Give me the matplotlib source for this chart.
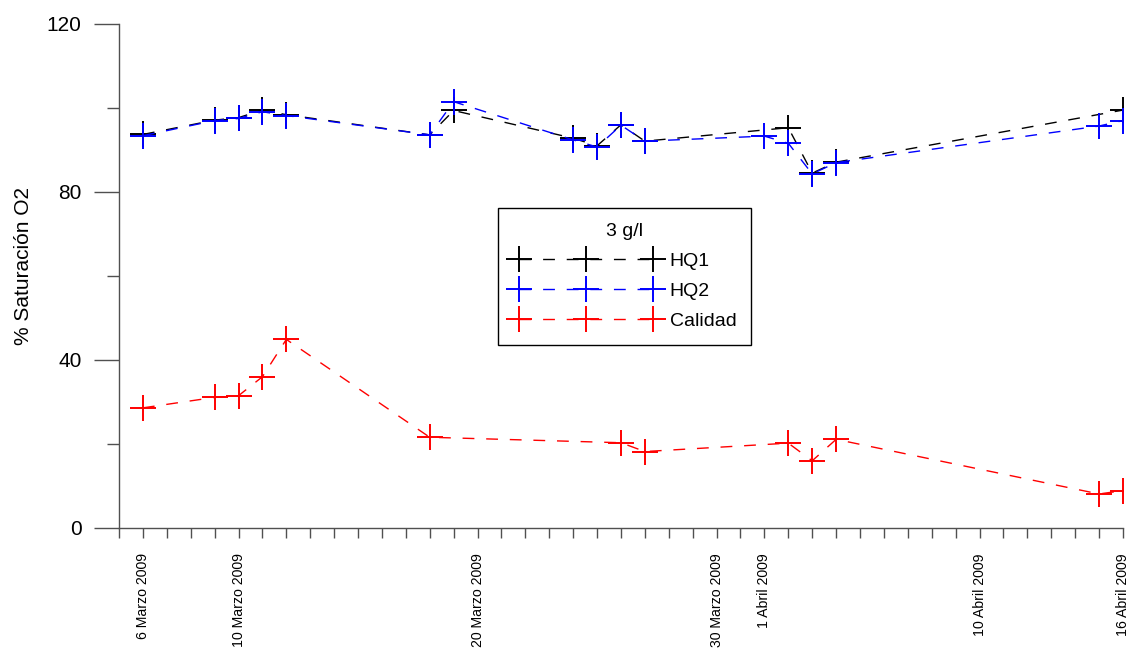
import datetime as dt
import matplotlib
matplotlib.use('Agg')
import matplotlib.pyplot as plt
import matplotlib.dates as mdates
from matplotlib.ticker import MultipleLocator

plt.rcParams['font.family'] = ['Liberation Sans', 'DejaVu Sans']

# Oxygen saturation readings (%)
hq1_dates = ['2009-03-06', '2009-03-09', '2009-03-10', '2009-03-11', '2009-03-12',
             '2009-03-18', '2009-03-19', '2009-03-24', '2009-03-25', '2009-03-26',
             '2009-03-27', '2009-04-02', '2009-04-03', '2009-04-04', '2009-04-16']
hq1_values = [93.7, 97.1, 97.7, 99.5, 98.4, 93.6, 99.4, 92.8, 91.0, 96.0,
              92.1, 95.3, 84.5, 87.1, 99.5]

hq2_dates = ['2009-03-06', '2009-03-09', '2009-03-10', '2009-03-11', '2009-03-12',
             '2009-03-18', '2009-03-19', '2009-03-24', '2009-03-25', '2009-03-26',
             '2009-03-27', '2009-04-01', '2009-04-02', '2009-04-03', '2009-04-04',
             '2009-04-15', '2009-04-16']
hq2_values = [93.4, 97.0, 97.5, 99.1, 98.2, 93.6, 101.5, 92.4, 90.7, 95.9,
              92.1, 93.3, 91.6, 84.3, 87.0, 95.7, 97.0]

cal_dates = ['2009-03-06', '2009-03-09', '2009-03-10', '2009-03-11', '2009-03-12',
             '2009-03-18', '2009-03-26', '2009-03-27', '2009-04-02', '2009-04-03',
             '2009-04-04', '2009-04-15', '2009-04-16']
cal_values = [28.6, 31.1, 31.5, 36.0, 44.9, 21.6, 20.3, 18.2, 20.2, 16.0,
              21.1, 8.1, 8.9]

tick_dates = ['2009-03-06', '2009-03-10', '2009-03-20', '2009-03-30',
              '2009-04-01', '2009-04-10', '2009-04-16']
tick_labels = ['6 Marzo 2009', '10 Marzo 2009', '20 Marzo 2009', '30 Marzo 2009',
               '1 Abril 2009', '10 Abril 2009', '16 Abril 2009']


def to_dates(strings):
    return [dt.datetime.strptime(s, '%Y-%m-%d') for s in strings]


fig = plt.figure(figsize=(11.31, 6.48), dpi=100)
ax = fig.add_axes([0.1052, 0.1852, 0.8877, 0.7778])

style = dict(linestyle=(0, (8.5, 8.5)), linewidth=1.0, marker='+',
             markersize=19, markeredgewidth=1.4)
ax.plot(to_dates(hq1_dates), hq1_values, color='black', label='HQ1', **style)
ax.plot(to_dates(hq2_dates), hq2_values, color='blue', label='HQ2', **style)
ax.plot(to_dates(cal_dates), cal_values, color='red', label='Calidad', **style)

ax.set_xlim(dt.datetime(2009, 3, 5), dt.datetime(2009, 4, 16))
ax.set_ylim(0, 120)

for side in ('top', 'right'):
    ax.spines[side].set_visible(False)
for side in ('left', 'bottom'):
    ax.spines[side].set_color('#505050')
    ax.spines[side].set_linewidth(1.0)

ax.yaxis.set_major_locator(MultipleLocator(40))
ax.yaxis.set_minor_locator(MultipleLocator(20))
ax.tick_params(axis='y', which='major', length=18, width=1.0, color='#505050',
               labelsize=15, pad=9)
ax.tick_params(axis='y', which='minor', length=9, width=1.0, color='#505050')

# one tick per day, labels only on a few
ax.xaxis.set_major_locator(mdates.DayLocator())
ax.xaxis.set_major_formatter(plt.NullFormatter())
ax.tick_params(axis='x', which='major', length=7, width=1.0, color='#505050')
for d, lab in zip(to_dates(tick_dates), tick_labels):
    ax.text(mdates.date2num(d), -0.05, lab, transform=ax.get_xaxis_transform(),
            rotation=90, ha='center', va='top', fontsize=10.2)

ax.set_ylabel('% Saturación O2', fontsize=15)
ax.yaxis.set_label_coords(-0.086, 0.52)

leg = ax.legend(title='3 g/l', loc='upper left', bbox_to_anchor=(0.378, 0.635),
                numpoints=3, handlelength=7.5, handletextpad=0.55,
                fontsize=14, title_fontsize=14, labelspacing=0.65,
                fancybox=False, framealpha=1, edgecolor='black',
                borderpad=0.75, borderaxespad=0)
leg.get_frame().set_linewidth(1.0)

fig.savefig('out.png', dpi=100)
